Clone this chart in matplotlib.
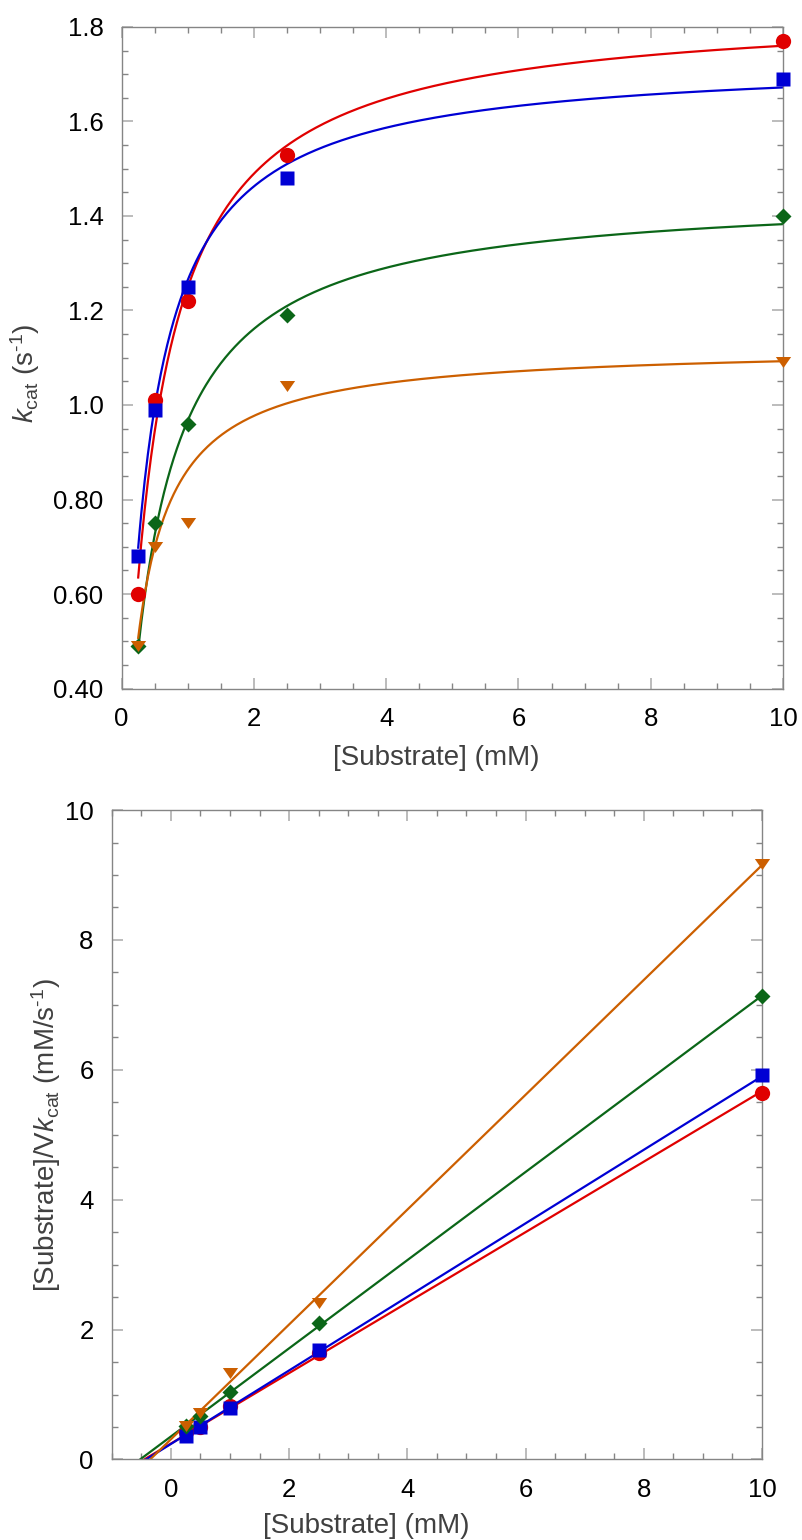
import numpy as np
import matplotlib.pyplot as plt
from matplotlib.ticker import MultipleLocator, FuncFormatter

plt.rcParams['font.family'] = ['Liberation Sans', 'DejaVu Sans']
plt.rcParams['mathtext.fontset'] = 'custom'
plt.rcParams['mathtext.rm'] = 'Liberation Sans'
plt.rcParams['mathtext.it'] = 'Liberation Sans:italic'

# substrate concentrations (mM)
substrate = np.array([0.25, 0.5, 1.0, 2.5, 10.0])

# measured kcat (s^-1) per series
kcat_red = np.array([0.60, 1.01, 1.22, 1.53, 1.77])
kcat_blue = np.array([0.68, 0.99, 1.25, 1.48, 1.69])
kcat_green = np.array([0.49, 0.75, 0.96, 1.19, 1.40])
kcat_orange = np.array([0.49, 0.70, 0.75, 1.04, 1.09])

# Michaelis-Menten fit parameters (top panel): Vmax, Km
mm_vmax = [1.844, 1.734, 1.452, 1.126]
mm_km = [0.476, 0.371, 0.501, 0.305]

# Hanes-Woolf linear fit parameters (bottom panel): Vmax, Km
hw_vmax = [1.843, 1.766, 1.473, 1.131]
hw_km = [0.45, 0.42, 0.52, 0.35]

colors = ['#e00000', '#0000d4', '#0b6618', '#cc5f00']
tri = [(-1, 0.72), (1, 0.72), (0, -0.72)]
markers = ['o', 's', 'D', tri]
msizes = [11, 10.5, 8, 11]
all_kcat = [kcat_red, kcat_blue, kcat_green, kcat_orange]

label_color = '#404040'
spine_color = '#858585'


def style_axes(ax):
    for s in ax.spines.values():
        s.set_color(spine_color)
        s.set_linewidth(1.0)
    ax.tick_params(which='both', direction='in', top=True, right=True,
                   colors=spine_color, labelcolor='black', labelsize=18.5)
    ax.tick_params(which='major', length=8, width=1.2, color='#b0b0b0', pad=13)
    ax.tick_params(which='minor', length=4, width=1.0)


fig = plt.figure(figsize=(8.02, 15.4), dpi=100)

# ---- top: kcat vs substrate
ax1 = fig.add_axes([0.1517, 0.5529, 0.8246, 0.4296])
s_fit = np.linspace(0.25, 10, 400)
for k, c, m, ms, vm, km in zip(all_kcat, colors, markers, msizes, mm_vmax, mm_km):
    ax1.plot(s_fit, vm * s_fit / (km + s_fit), color=c, lw=1.6, zorder=2)
    ax1.plot(substrate, k, ls='none', marker=m, ms=ms, color=c,
             mec='none', clip_on=False, zorder=3)
ax1.set_xlim(0, 10)
ax1.set_ylim(0.4, 1.8)
ax1.xaxis.set_major_locator(MultipleLocator(2))
ax1.xaxis.set_minor_locator(MultipleLocator(0.5))
ax1.yaxis.set_major_locator(MultipleLocator(0.2))
ax1.yaxis.set_minor_locator(MultipleLocator(0.05))
ax1.yaxis.set_major_formatter(FuncFormatter(
    lambda v, p: f'{v:.2f}' if v < 0.95 else f'{v:.1f}'))
style_axes(ax1)
ax1.set_xlabel('[Substrate] (mM)', fontsize=20, color=label_color)
ax1.xaxis.set_label_coords(0.475, -0.085)
ax1.set_ylabel('$k_{\\mathrm{cat}}$ (s$^{\\mathrm{\u20101}}$)', fontsize=20,
               color=label_color)
ax1.yaxis.set_label_coords(-0.12, 0.477)

# ---- bottom: Hanes-Woolf
ax2 = fig.add_axes([0.1393, 0.0523, 0.8108, 0.4217])
for k, c, m, ms, vm, km in zip(all_kcat, colors, markers, msizes, hw_vmax, hw_km):
    s_line = np.array([-km, 10.0])
    ax2.plot(s_line, (s_line + km) / vm, color=c, lw=1.6, zorder=2)
    ax2.plot(substrate, substrate / k, ls='none', marker=m, ms=ms, color=c,
             mec='none', clip_on=False, zorder=3)
ax2.set_xlim(-1, 10)
ax2.set_ylim(0, 10)
ax2.xaxis.set_major_locator(MultipleLocator(2))
ax2.xaxis.set_minor_locator(MultipleLocator(0.5))
ax2.yaxis.set_major_locator(MultipleLocator(2))
ax2.yaxis.set_minor_locator(MultipleLocator(0.5))
style_axes(ax2)
ax2.set_xlabel('[Substrate] (mM)', fontsize=20, color=label_color)
ax2.xaxis.set_label_coords(0.391, -0.082)
ax2.set_ylabel('[Substrate]/V$k_{\\mathrm{cat}}$ (mM/s$^{\\mathrm{\u20101}}$)',
               fontsize=20, color=label_color)
ax2.yaxis.set_label_coords(-0.075, 0.5)

fig.savefig('out.png', dpi=100)
